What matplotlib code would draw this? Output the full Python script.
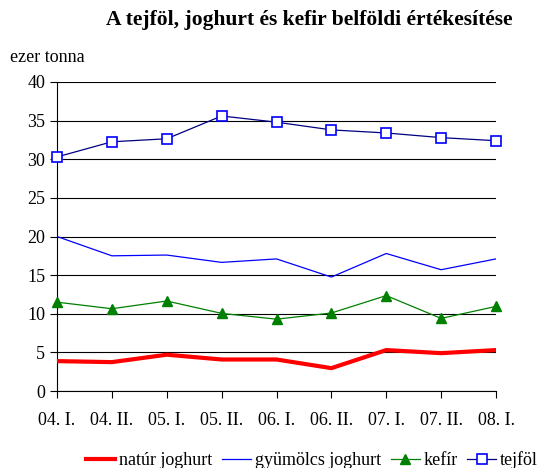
import numpy as np
import matplotlib.pyplot as plt

# periods (half-years) and sales in thousand tonnes
periods = ["04. I.", "04. II.", "05. I.", "05. II.", "06. I.", "06. II.", "07. I.", "07. II.", "08. I."]
natur_joghurt = [3.87, 3.74, 4.7, 4.08, 4.08, 2.96, 5.3, 4.9, 5.3]
gyumolcs_joghurt = [20.0, 17.5, 17.6, 16.65, 17.1, 14.75, 17.8, 15.7, 17.1]
kefir = [11.5, 10.65, 11.65, 10.05, 9.3, 10.1, 12.35, 9.4, 10.95]
tejfol = [30.3, 32.26, 32.65, 35.6, 34.8, 33.8, 33.4, 32.8, 32.4]

plt.rcParams['font.family'] = ['Liberation Serif', 'DejaVu Serif']

fig = plt.figure(figsize=(5.47, 4.68), dpi=100)
ax = fig.add_axes([0.1042, 0.1645, 0.8026, 0.6603])

x = np.arange(len(periods))
ax.plot(x, natur_joghurt, color='#ff0000', lw=3, label='natúr joghurt', zorder=3)
ax.plot(x, gyumolcs_joghurt, color='#0000ff', lw=0.9, label='gyümölcs joghurt', zorder=3)
ax.plot(x, kefir, color='#008000', lw=0.9, marker='^', ms=7, mfc='#008000', mec='#008000',
        label='kefír', zorder=3, clip_on=False)
ax.plot(x, tejfol, color='#000080', lw=0.9, marker='s', ms=6.5, mfc='white', mec='#0000ff',
        mew=1.2, label='tejföl', zorder=4, clip_on=False)

ax.set_xlim(0, len(periods) - 1)
ax.set_ylim(0, 40)
ax.set_yticks(np.arange(0, 41, 5))
ax.set_xticks(x)
ax.set_xticklabels(periods)
ax.tick_params(axis='both', labelsize=13, length=5, width=0.8, color='black')
ax.tick_params(axis='x', pad=10)
ax.yaxis.grid(True, color='black', lw=0.8)
ax.set_axisbelow(True)
for s in ['top', 'right']:
    ax.spines[s].set_visible(False)
ax.spines['left'].set_linewidth(0.8)
ax.spines['bottom'].set_linewidth(0.8)

fig.text(0.565, 0.957, "A tejföl, joghurt és kefir belföldi értékesítése",
         ha='center', va='center', fontsize=15.5, fontweight='bold')
fig.text(0.018, 0.877, "ezer tonna", ha='left', va='center', fontsize=13)

ax.legend(loc='center', bbox_to_anchor=(0.581, -0.223), ncol=4, frameon=False, fontsize=13,
          handlelength=1.6, handletextpad=0.2, columnspacing=0.55, borderpad=0)

fig.savefig("out.png", dpi=100)
